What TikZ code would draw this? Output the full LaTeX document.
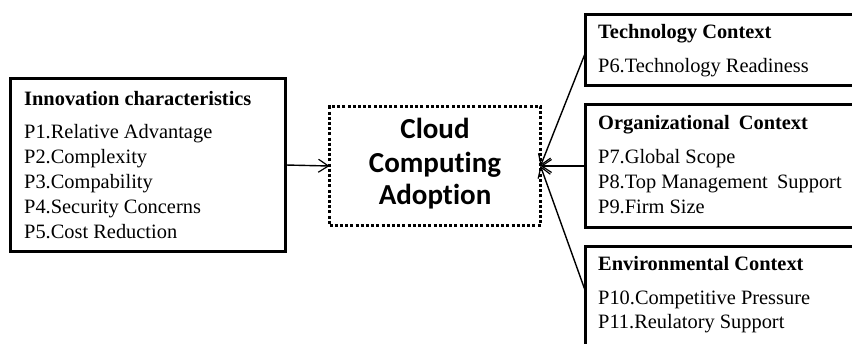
\documentclass[tikz,border=0pt]{standalone}
\usepackage{fontspec}
\setmainfont{Liberation Serif}
\newfontfamily\carlitofont[Ligatures=NoCommon]{Carlito}
\usetikzlibrary{arrows.meta}
\begin{document}
\begin{tikzpicture}[x=1pt,y=-1pt,
  box/.style={draw, line width=3pt, inner sep=0pt, outer sep=0pt, anchor=north west},
  dotbox/.style={draw, line width=3pt, dash pattern=on 3pt off 2.2pt, inner sep=0pt, outer sep=0pt, anchor=north west},
  txt/.style={anchor=base west, inner sep=0pt, font=\fontsize{20.4}{24}\selectfont},
  ttl/.style={anchor=base west, inner sep=0pt, font=\fontsize{20.4}{24}\selectfont\bfseries},
  ctr/.style={anchor=base, inner sep=0pt, font=\carlitofont\fontsize{29}{34}\selectfont\bfseries},
  conn/.style={line width=1.4pt, -{Straight Barb[length=10pt,width=13pt,line width=1.2pt]}}
]
\useasboundingbox (0,0) rectangle (852,343);
\clip (0,0) rectangle (852,343);
% boxes
\node[box, minimum width=275pt, minimum height=173pt] (inno) at (10.5,78.5) {};
\node[dotbox, minimum width=211pt, minimum height=119pt] (cca) at (329.5,106.5) {};
\node[box, minimum width=290pt, minimum height=71pt] (tech) at (585.5,14.5) {};
\node[box, minimum width=290pt, minimum height=123pt] (org) at (585.5,104.5) {};
\node[box, minimum width=290pt, minimum height=120pt] (env) at (585.5,246.5) {};
% left texts
\node[ttl] (it) at (24,105) {Innovation characteristics};
\node[txt] (p1) at (24,138) {P1.Relative Advantage};
\node[txt] (p2) at (24,163) {P2.Complexity};
\node[txt] (p3) at (24,188) {P3.Compability};
\node[txt] (p4) at (24,213) {P4.Security Concerns};
\node[txt] (p5) at (24,238) {P5.Cost Reduction};
% center texts
\node[ctr] (c1) at (435,138) {Cloud};
\node[ctr] (c2) at (435,172) {Computing};
\node[ctr] (c3) at (435,204) {Adoption};
% right texts
\node[ttl] (tt) at (598,38) {Technology Context};
\node[txt] (p6) at (598,72) {P6.Technology Readiness};
\node[ttl] (ot) at (598,129) {Organizational\hspace{0.45em}Context};
\node[txt] (p7) at (598,163) {P7.Global Scope};
\node[txt] (p8) at (598,188) {P8.Top Management\hspace{0.45em}Support};
\node[txt] (p9) at (598,213) {P9.Firm Size};
\node[ttl] (et) at (598,270) {Environmental Context};
\node[txt] (p10) at (598,304) {P10.Competitive Pressure};
\node[txt] (p11) at (598,328) {P11.Reulatory Support};
% connectors
\coordinate (techin) at ([yshift=-38pt]tech.north west);
\coordinate (envin) at ([yshift=-45pt]env.north west);
\draw[conn] (inno.east) -- (cca.west);
\draw[conn] (techin) -- (cca.east);
\draw[conn] (org.west) -- (cca.east);
\draw[conn] (envin) -- (cca.east);
\end{tikzpicture}
\end{document}
